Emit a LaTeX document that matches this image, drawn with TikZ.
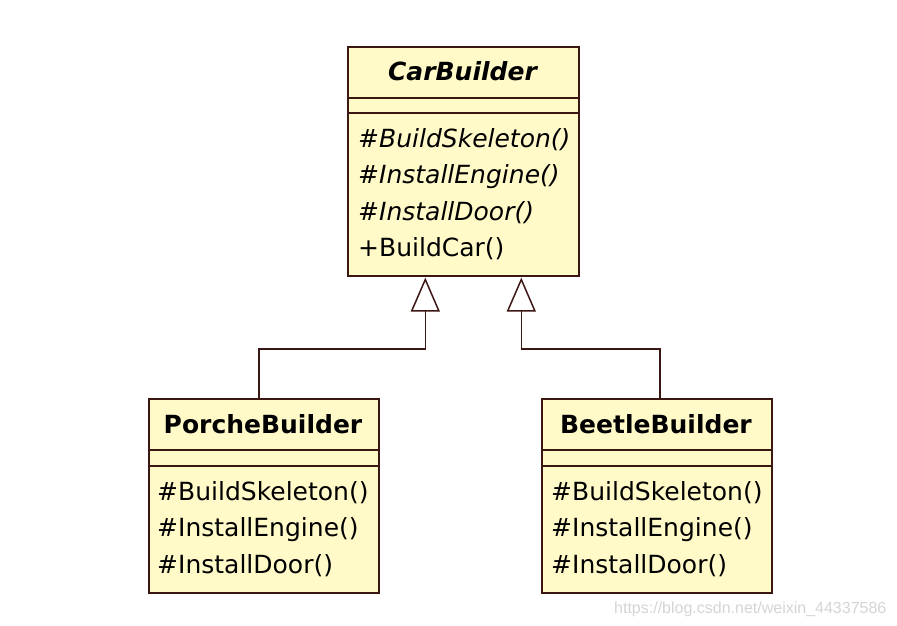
\documentclass[tikz,border=0pt]{standalone}
\usepackage{fontspec}
\setmainfont{DejaVu Sans}
\newfontfamily\wmfont{Liberation Sans}
\usetikzlibrary{arrows.meta}
\definecolor{boxfill}{RGB}{255,250,200}
\definecolor{boxline}{RGB}{60,22,18}
\definecolor{wmgray}{RGB}{212,212,212}
\tikzset{
  cls/.style={draw=boxline, fill=boxfill, line width=1.6pt, inner sep=0pt, anchor=north west},
  sepline/.style={draw=boxline, line width=1.6pt},
  conn/.style={draw=boxline, line width=1.5pt, -{Triangle[open, length=34pt, width=29pt, line width=1.5pt]}},
  txt/.style={anchor=base west, inner sep=0pt, font=\fontsize{25}{30}\selectfont},
  ttl/.style={anchor=base, inner sep=0pt, font=\fontsize{25}{30}\selectfont\bfseries},
  wm/.style={anchor=base west, inner sep=0pt, text=wmgray, font=\wmfont\fontsize{16}{19}\selectfont}
}
\begin{document}
\begin{tikzpicture}[x=1pt,y=-1pt]
\useasboundingbox (0,0) rectangle (897,626);
% CarBuilder
\node[cls, minimum width=231pt, minimum height=229pt] (car) at (347,46) {};
\draw[sepline] ([yshift=-52pt]car.north west) -- ([yshift=-52pt]car.north east);
\draw[sepline] ([yshift=-67pt]car.north west) -- ([yshift=-67pt]car.north east);
\node[ttl, font=\fontsize{25}{30}\selectfont\bfseries\itshape] (cart) at (462.5,81) {CarBuilder};
\node[txt, font=\fontsize{25}{30}\selectfont\itshape] (c1) at (358,147) {\#BuildSkeleton()};
\node[txt, font=\fontsize{25}{30}\selectfont\itshape] (c2) at (358,183.5) {\#InstallEngine()};
\node[txt, font=\fontsize{25}{30}\selectfont\itshape] (c3) at (358,220) {\#InstallDoor()};
\node[txt] (c4) at (358,256.5) {+BuildCar()};
% PorcheBuilder
\node[cls, minimum width=230pt, minimum height=194pt] (porche) at (148,398) {};
\draw[sepline] ([yshift=-52pt]porche.north west) -- ([yshift=-52pt]porche.north east);
\draw[sepline] ([yshift=-68pt]porche.north west) -- ([yshift=-68pt]porche.north east);
\node[ttl] (pt) at (263,433) {PorcheBuilder};
\node[txt] (p1) at (157,500) {\#BuildSkeleton()};
\node[txt] (p2) at (157,536.5) {\#InstallEngine()};
\node[txt] (p3) at (157,573) {\#InstallDoor()};
% BeetleBuilder
\node[cls, minimum width=230pt, minimum height=194pt] (beetle) at (541,398) {};
\draw[sepline] ([yshift=-52pt]beetle.north west) -- ([yshift=-52pt]beetle.north east);
\draw[sepline] ([yshift=-68pt]beetle.north west) -- ([yshift=-68pt]beetle.north east);
\node[ttl] (bt) at (656,433) {BeetleBuilder};
\node[txt] (b1) at (551,500) {\#BuildSkeleton()};
\node[txt] (b2) at (551,536.5) {\#InstallEngine()};
\node[txt] (b3) at (551,573) {\#InstallDoor()};
% generalizations
\draw[conn] ([xshift=-5pt]porche.north) -- ++(0,-49) -| ([xshift=-38pt,yshift=-1pt]car.south);
\draw[conn] ([xshift=3pt]beetle.north) -- ++(0,-49) -| ([xshift=58pt,yshift=-1pt]car.south);
% watermark
\node[wm] (wmk) at (614,613) {https://blog.csdn.net/weixin\_44337586};
\end{tikzpicture}
\end{document}
